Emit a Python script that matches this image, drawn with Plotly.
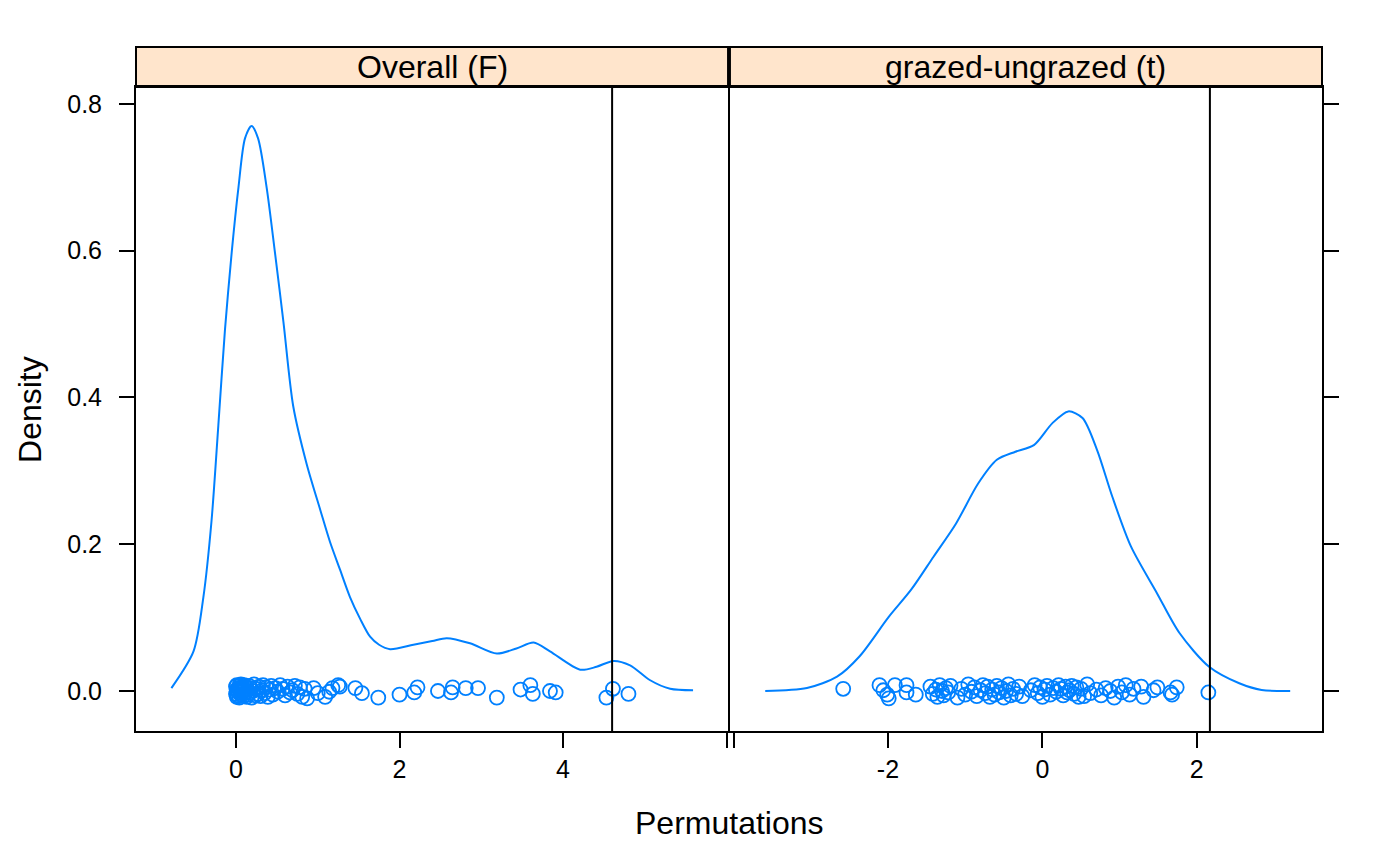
"""Density plots of permutation statistics, two lattice-style panels."""

import plotly.graph_objects as go

# Panel names (strip labels)
panels = ["Overall (F)", "grazed-ungrazed (t)"]

# Observed statistics (vertical reference lines)
observed = [4.60, 2.17]

# Density curve, left panel
dens_x_left = [-0.79, -0.52, -0.40, -0.30, -0.216, -0.135, -0.053, 0.03, 0.11, 0.19,
               0.27, 0.375, 0.477, 0.58, 0.70, 0.865, 1.03, 1.15, 1.27, 1.394,
               1.52, 1.64, 1.75, 1.884, 2.17, 2.40, 2.577, 2.862, 3.19, 3.43,
               3.64, 3.84, 4.21, 4.41, 4.615, 4.82, 5.06, 5.31, 5.59]
dens_y_left = [0.004, 0.054, 0.127, 0.231, 0.362, 0.492, 0.597, 0.686, 0.753, 0.770,
               0.753, 0.686, 0.597, 0.503, 0.388, 0.309, 0.247, 0.203, 0.166, 0.128,
               0.098, 0.074, 0.063, 0.057, 0.063, 0.068, 0.072, 0.065, 0.051, 0.058,
               0.066, 0.054, 0.029, 0.033, 0.041, 0.035, 0.015, 0.003, 0.001]

# Density curve, right panel
dens_x_right = [-3.59, -3.05, -2.66, -2.37, -1.99, -1.70, -1.41, -1.12, -0.83, -0.59,
                -0.35, -0.11, 0.13, 0.336, 0.52, 0.71, 0.905, 1.147, 1.486, 1.776,
                2.16, 2.55, 2.84, 3.21]
dens_y_right = [0.000, 0.004, 0.0195, 0.047, 0.101, 0.138, 0.183, 0.228, 0.283, 0.315,
                0.326, 0.335, 0.365, 0.381, 0.372, 0.328, 0.265, 0.197, 0.133, 0.079,
                0.033, 0.0105, 0.0014, 0.000]

# Permuted statistics (points) with their vertical jitter
perm_left = [0.00, 0.00, 0.01, 0.01, 0.01, 0.02, 0.02, 0.03, 0.03, 0.04,
             0.04, 0.05, 0.06, 0.06, 0.07, 0.08, 0.09, 0.10, 0.10, 0.11,
             0.12, 0.13, 0.14, 0.15, 0.16, 0.17, 0.18, 0.19, 0.21, 0.22,
             0.24, 0.25, 0.27, 0.28, 0.30, 0.32, 0.33, 0.35, 0.37, 0.39,
             0.41, 0.43, 0.45, 0.48, 0.51, 0.54, 0.57, 0.60, 0.63, 0.66,
             0.69, 0.72, 0.75, 0.78, 0.81, 0.84,
             0.87, 0.95, 1.00, 1.09, 1.14, 1.18, 1.25, 1.27, 1.46, 1.54,
             1.74, 2.00, 2.18, 2.22, 2.47, 2.63, 2.65, 2.81, 2.96, 3.19,
             3.48, 3.60, 3.63, 3.84, 3.91, 4.53, 4.61, 4.80]
jit_left = [0.006, -0.004, 0.002, -0.008, 0.008, 0.000, -0.006, 0.004, -0.002, 0.007,
            -0.009, 0.003, -0.005, 0.009, -0.001, 0.005, -0.007, 0.001, 0.008, -0.003,
            0.006, -0.008, 0.002, -0.005, 0.007, -0.002, 0.004, -0.009, 0.000, 0.009,
            -0.006, 0.003, -0.004, 0.006, -0.007, 0.001, 0.008, -0.003, 0.005, -0.008,
            0.002, 0.007, -0.005, 0.004, -0.001, 0.008, 0.003, -0.006, 0.006, -0.002,
            0.001, 0.007, -0.004, 0.005, -0.008, 0.003,
            -0.010, 0.004, -0.003, -0.008, -0.001, 0.004, 0.008, 0.006, 0.004, -0.003,
            -0.009, -0.005, -0.002, 0.005, 0.000, -0.002, 0.005, 0.004, 0.004, -0.009,
            0.002, 0.008, -0.004, 0.000, -0.002, -0.009, 0.003, -0.004]

perm_right = [-2.58, -2.11, -2.06, -2.01, -1.99, -1.91, -1.76, -1.76, -1.64,
              -1.45, -1.42, -1.38, -1.36, -1.33, -1.30, -1.28, -1.25, -1.22, -1.19,
              -1.10, -1.05, -1.00, -0.96, -0.92, -0.88, -0.85,
              -0.80, -0.77, -0.74, -0.71, -0.68, -0.65, -0.62, -0.59, -0.56, -0.53,
              -0.50, -0.47, -0.44, -0.41, -0.38, -0.34, -0.30, -0.26,
              -0.15, -0.10, -0.06, -0.03, 0.00, 0.03, 0.06, 0.10, 0.14, 0.18,
              0.21, 0.24, 0.27, 0.30, 0.32, 0.35, 0.38, 0.41, 0.44, 0.47,
              0.50, 0.54, 0.58, 0.62,
              0.70, 0.76, 0.82, 0.88, 0.93, 0.98, 1.03, 1.08, 1.13, 1.18,
              1.28, 1.31, 1.44, 1.49, 1.66, 1.68, 1.74, 2.15]
jit_right = [0.003, 0.008, 0.001, -0.005, -0.010, 0.008, 0.008, -0.002, -0.005,
             0.006, -0.004, 0.002, -0.008, 0.008, 0.000, -0.006, 0.004, -0.002, 0.007,
             -0.009, 0.003, -0.005, 0.009, -0.001, 0.005, -0.007,
             0.001, 0.008, -0.003, 0.006, -0.008, 0.002, -0.005, 0.007, -0.002, 0.004,
             -0.009, 0.000, 0.009, -0.006, 0.003, -0.004, 0.006, -0.007,
             0.001, 0.008, -0.003, 0.005, -0.008, 0.002, 0.007, -0.005, 0.004, -0.001,
             0.008, 0.003, -0.006, 0.006, -0.002, 0.001, 0.007, -0.004, 0.005, -0.008,
             0.003, -0.007, 0.009, -0.003,
             0.002, -0.006, 0.004, 0.000, -0.009, 0.006, -0.002, 0.008, -0.005, 0.003,
             0.006, -0.008, 0.001, 0.005, -0.002, -0.005, 0.005, -0.002]

# Axis ticks
xticks_left = [0, 2, 4, 6]
xticklabels_left = ["0", "2", "4", ""]
xticks_right = [-4, -2, 0, 2]
xticklabels_right = ["", "-2", "0", "2"]
yticks = [0.0, 0.2, 0.4, 0.6, 0.8]
yticklabels = ["0.0", "0.2", "0.4", "0.6", "0.8"]

BLUE = "#0080ff"
STRIP = "#ffe5cc"
FONT = "Liberation Sans, Arial, Helvetica, sans-serif"
PANEL_TOP = 0.9415  # panel top in paper units, strip above it
SPLIT = 0.4992

fig = go.Figure()

for xa, ya, dx, dy, px, py in [
    ("x", "y", dens_x_left, dens_y_left, perm_left, jit_left),
    ("x2", "y2", dens_x_right, dens_y_right, perm_right, jit_right),
]:
    fig.add_trace(go.Scatter(
        x=dx, y=dy, xaxis=xa, yaxis=ya, mode="lines",
        line=dict(color=BLUE, width=2, shape="spline", smoothing=0.8),
        hoverinfo="skip", showlegend=False
    ))
    fig.add_trace(go.Scatter(
        x=px, y=py, xaxis=xa, yaxis=ya, mode="markers",
        marker=dict(symbol="circle-open", size=14, color=BLUE,
                    line=dict(color=BLUE, width=1.8)),
        showlegend=False
    ))

ax_common = dict(
    showline=True, linecolor="black", linewidth=2, mirror=True,
    ticks="outside", ticklen=15, tickwidth=2, tickcolor="black",
    showgrid=False, zeroline=False,
    tickfont=dict(family=FONT, size=25, color="black"),
)

# body margin of the page shifts everything by 8 px, so margins are reduced
fig.update_layout(
    width=1400, height=866,
    margin=dict(l=128, r=86, t=39, b=143),
    paper_bgcolor="white", plot_bgcolor="white",
    font=dict(family=FONT, color="black"),
    xaxis=dict(domain=[0, SPLIT], range=[-1.223, 6.018], anchor="y",
               tickvals=xticks_left, ticktext=xticklabels_left, **ax_common),
    xaxis2=dict(domain=[1 - SPLIT, 1], range=[-4.047, 3.622], anchor="y2",
                tickvals=xticks_right, ticktext=xticklabels_right, **ax_common),
    yaxis=dict(domain=[0, PANEL_TOP], range=[-0.0545, 0.823], anchor="x",
               tickvals=yticks, ticktext=yticklabels, ticklabelstandoff=12,
               **ax_common),
    yaxis2=dict(domain=[0, PANEL_TOP], range=[-0.0545, 0.823], anchor="x2",
                side="right", tickvals=yticks, showticklabels=False,
                **ax_common),
)

# Strips and reference lines
shapes = []
annotations = []
for i, (name, obs) in enumerate(zip(panels, observed)):
    x0, x1 = (0, SPLIT) if i == 0 else (1 - SPLIT, 1)
    shapes.append(dict(type="rect", xref="paper", yref="paper",
                       x0=x0, x1=x1, y0=PANEL_TOP, y1=1,
                       fillcolor=STRIP, line=dict(color="black", width=2),
                       layer="below"))
    annotations.append(dict(text=name, xref="paper", yref="paper",
                            x=(x0 + x1) / 2, y=(PANEL_TOP + 1) / 2,
                            showarrow=False, xanchor="center", yanchor="middle",
                            font=dict(family=FONT, size=32, color="black")))
    xr = "x" if i == 0 else "x2"
    yr = "y domain" if i == 0 else "y2 domain"
    shapes.append(dict(type="line", xref=xr, yref=yr, x0=obs, x1=obs, y0=0, y1=1,
                       line=dict(color="black", width=2)))

annotations.append(dict(text="Permutations", xref="paper", yref="paper",
                        x=0.5, y=-0.1345, showarrow=False,
                        xanchor="center", yanchor="middle",
                        font=dict(family=FONT, size=32, color="black")))
annotations.append(dict(text="Density", xref="paper", yref="paper",
                        x=-0.0894, y=0.4708, showarrow=False, textangle=-90,
                        xanchor="center", yanchor="middle",
                        font=dict(family=FONT, size=32, color="black")))

fig.update_layout(shapes=shapes, annotations=annotations)

fig.write_html("out.html")
